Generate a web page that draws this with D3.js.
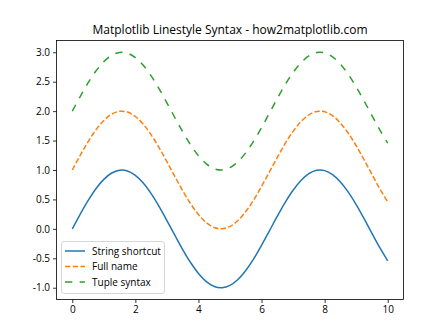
<!DOCTYPE html>
<html><head><meta charset="utf-8">
<script src="https://cdn.jsdelivr.net/npm/d3@7"></script>
<style>
body{margin:0;background:#fff;}
svg{display:block;font-family:"Open Sans","Noto Sans",sans-serif;}
</style></head><body>
<svg id="c" width="448" height="336"></svg>
<script>
const xs = [0,0.25,0.5,0.75,1,1.25,1.5,1.75,2,2.25,2.5,2.75,3,3.25,3.5,3.75,4,4.25,4.5,4.75,5,5.25,5.5,5.75,6,6.25,6.5,6.75,7,7.25,7.5,7.75,8,8.25,8.5,8.75,9,9.25,9.5,9.75,10];
const stringShortcut = [0,0.247,0.479,0.682,0.841,0.949,0.997,0.984,0.909,0.778,0.598,0.382,0.141,-0.108,-0.351,-0.572,-0.757,-0.895,-0.978,-0.999,-0.959,-0.859,-0.706,-0.51,-0.279,-0.033,0.215,0.451,0.657,0.822,0.938,0.995,0.989,0.923,0.798,0.624,0.412,0.174,-0.075,-0.32,-0.544];
const fullName = [1,1.247,1.479,1.682,1.841,1.949,1.997,1.984,1.909,1.778,1.598,1.382,1.141,0.892,0.649,0.428,0.243,0.105,0.022,0.001,0.041,0.141,0.294,0.49,0.721,0.967,1.215,1.451,1.657,1.822,1.938,1.995,1.989,1.923,1.798,1.624,1.412,1.174,0.925,0.68,0.456];
const tupleSyntax = [2,2.247,2.479,2.682,2.841,2.949,2.997,2.984,2.909,2.778,2.598,2.382,2.141,1.892,1.649,1.428,1.243,1.105,1.022,1.001,1.041,1.141,1.294,1.49,1.721,1.967,2.215,2.451,2.657,2.822,2.938,2.995,2.989,2.923,2.798,2.624,2.412,2.174,1.925,1.68,1.456];
const seriesNames = ["String shortcut","Full name","Tuple syntax"];
const colors = ["#1f77b4","#ff7f0e","#2ca02c"];
const dashes = [null,"5.4,2.3","7.3,7.3"];
const xTicks = [0,2,4,6,8,10];
const yTicks = [-1.0,-0.5,0.0,0.5,1.0,1.5,2.0,2.5,3.0];
const title = "Matplotlib Linestyle Syntax - how2matplotlib.com";

const svg = d3.select("#c");
const L=56.5,R=403.5,T=40.5,B=299.5;
const x = d3.scaleLinear().domain([-0.5,10.5]).range([L,R]);
const y = d3.scaleLinear().domain([-1.2,3.2]).range([B,T]);

svg.append("text").attr("x",(L+R)/2).attr("y",34).attr("text-anchor","middle")
  .attr("font-size",12).attr("fill","#000").text(title);

const xa = svg.append("g").attr("transform",`translate(0,${B})`)
  .call(d3.axisBottom(x).tickValues(xTicks).tickSize(3.5).tickPadding(3).tickFormat(d3.format("d")));
const ya = svg.append("g").attr("transform",`translate(${L},0)`)
  .call(d3.axisLeft(y).tickValues(yTicks).tickSize(3.5).tickPadding(3).tickFormat(d=>d3.format(".1f")(d).replace("\u2212","-")));
[xa,ya].forEach(g=>{g.select(".domain").remove();g.selectAll("text").attr("font-size",10).attr("fill","#000").attr("font-family","Open Sans, Noto Sans, sans-serif");g.selectAll("line").attr("stroke","#000").attr("stroke-width",0.8);});

const all=[stringShortcut,fullName,tupleSyntax];
const line = d3.line().x((d,i)=>x(xs[i])).y(d=>y(d)).curve(d3.curveCatmullRom);
const plot = svg.append("g");
all.forEach((s,k)=>{
  plot.append("path").datum(s).attr("d",line).attr("fill","none")
    .attr("stroke",colors[k]).attr("stroke-width",1.5).attr("stroke-dasharray",dashes[k]);
});

svg.append("rect").attr("x",L).attr("y",T).attr("width",R-L).attr("height",B-T)
  .attr("fill","none").attr("stroke","#000").attr("stroke-width",0.8);

const lg = svg.append("g");
lg.append("rect").attr("x",61.5).attr("y",241.5).attr("width",103).attr("height",52).attr("rx",2.5)
  .attr("fill","#fff").attr("fill-opacity",0.8).attr("stroke","#ccc").attr("stroke-width",0.8);
seriesNames.forEach((n,k)=>{
  const yy = 251 + k*15.5;
  lg.append("line").attr("x1",65).attr("x2",85).attr("y1",yy).attr("y2",yy)
    .attr("stroke",colors[k]).attr("stroke-width",1.5).attr("stroke-dasharray",dashes[k]);
  lg.append("text").attr("x",92).attr("y",yy+3.5).attr("font-size",10).attr("fill","#000").text(n);
});
</script></body></html>
